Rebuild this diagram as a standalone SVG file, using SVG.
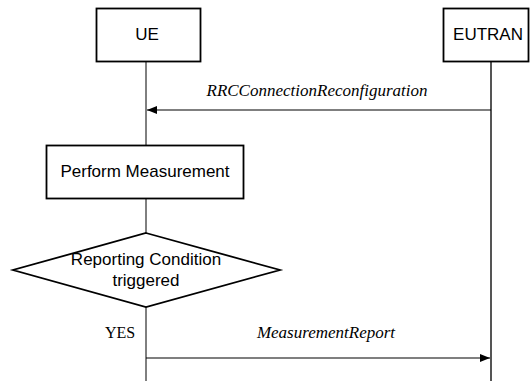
<svg xmlns="http://www.w3.org/2000/svg" width="532" height="384" viewBox="0 0 532 384">
<style>
.box{fill:#fff;stroke:#000;stroke-width:1.8}
.life{stroke:#000;stroke-width:1;fill:none}
.life2{stroke:#555;stroke-width:2;fill:none}
.msg{stroke:#000;stroke-width:1.2;fill:none}
.sans{font-family:"Liberation Sans",Arial,sans-serif;font-size:17px;fill:#000;text-anchor:middle}
.it{font-family:"Liberation Serif","Times New Roman",serif;font-style:italic;font-size:17px;fill:#000;text-anchor:middle}
.rm{font-family:"Liberation Serif","Times New Roman",serif;font-size:16px;fill:#000}
</style>
<defs>
<marker id="ah" markerWidth="10" markerHeight="8" refX="10" refY="4" orient="auto" markerUnits="userSpaceOnUse">
<path d="M0,0 L10,4 L0,8 Z" fill="#000"/>
</marker>
</defs>
<rect width="532" height="384" fill="#fff"/>
<g id="connectors">
<line class="life" x1="146" y1="61" x2="146" y2="145"/>
<line class="life" x1="146" y1="199" x2="146" y2="233"/>
<line class="life" x1="146" y1="307" x2="146" y2="381"/>
<line class="life2" x1="491" y1="61" x2="491" y2="381"/>
<line class="msg" x1="491" y1="110" x2="147" y2="110" marker-end="url(#ah)"/>
<line class="msg" x1="146" y1="358" x2="490" y2="358" marker-end="url(#ah)"/>
<text class="it" x="317" y="96">RRCConnectionReconfiguration</text>
<text class="it" x="326" y="338">MeasurementReport</text>
<text class="rm" x="105" y="338">YES</text>
</g>
<g id="ue">
<rect class="box" x="96.5" y="8.5" width="104" height="53"/>
<text class="sans" x="147" y="40">UE</text>
</g>
<g id="eutran">
<rect class="box" x="443.5" y="8.5" width="85" height="53"/>
<text class="sans" x="488" y="40" font-size="16">EUTRAN</text>
</g>
<g id="perform">
<rect class="box" x="46.5" y="145.5" width="197" height="53"/>
<text class="sans" x="145" y="177">Perform Measurement</text>
</g>
<g id="condition">
<polygon class="box" points="146,233 280,270 146,307 13,270"/>
<text class="sans" x="146" y="265">Reporting Condition</text>
<text class="sans" x="146" y="286">triggered</text>
</g>
</svg>
